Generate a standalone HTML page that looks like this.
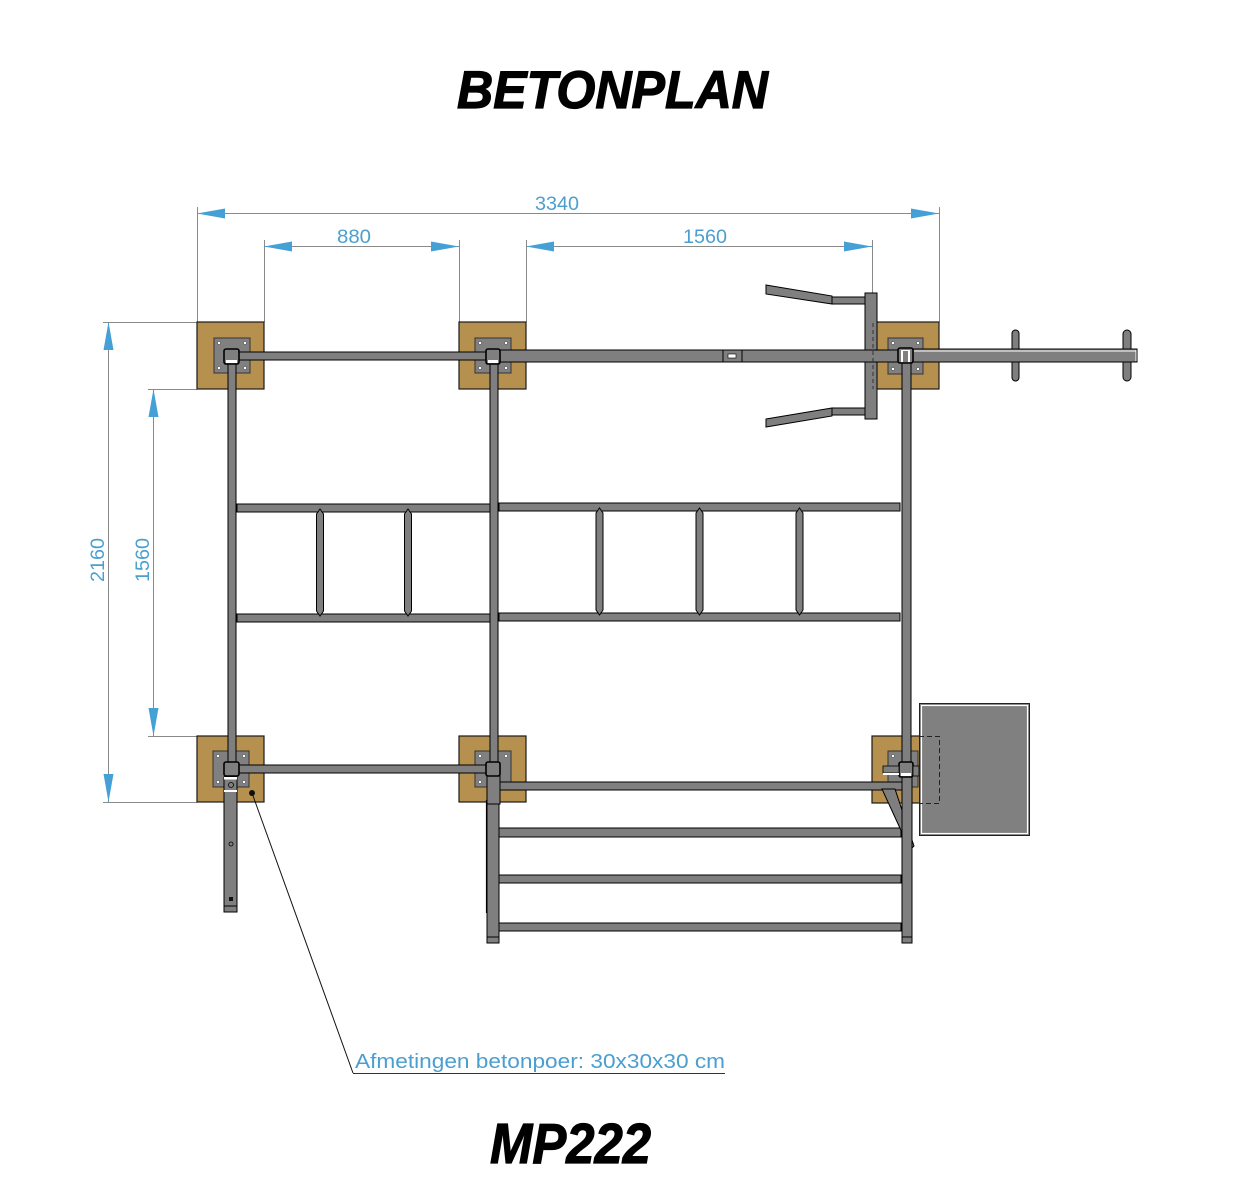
<!DOCTYPE html>
<html><head><meta charset="utf-8"><style>
html,body{margin:0;padding:0;background:#fff;}
svg{display:block;}
</style></head><body>
<svg width="1249" height="1200" viewBox="0 0 1249 1200" xmlns="http://www.w3.org/2000/svg">
<rect width="1249" height="1200" fill="#fff"/>
<!-- Titles -->
<text x="457" y="108" font-family="Liberation Sans, sans-serif" font-weight="bold" font-style="italic" font-size="53" textLength="311" lengthAdjust="spacingAndGlyphs" fill="#000" stroke="#000" stroke-width="1.2">BETONPLAN</text>
<text x="490" y="1163" font-family="Liberation Sans, sans-serif" font-weight="bold" font-style="italic" font-size="57" textLength="161" lengthAdjust="spacingAndGlyphs" fill="#000" stroke="#000" stroke-width="1.2">MP222</text>

<!-- Dimension extension lines -->
<g stroke="#8a8a8a" stroke-width="1" fill="none">
<line x1="197.5" y1="207" x2="197.5" y2="322"/>
<line x1="939.5" y1="207" x2="939.5" y2="322"/>
<line x1="264.5" y1="240" x2="264.5" y2="322"/>
<line x1="459.5" y1="240" x2="459.5" y2="322"/>
<line x1="526.5" y1="240" x2="526.5" y2="322"/>
<line x1="872.5" y1="240" x2="872.5" y2="293"/>
<line x1="197" y1="213.5" x2="939" y2="213.5"/>
<line x1="264" y1="246.5" x2="459" y2="246.5"/>
<line x1="526" y1="246.5" x2="872" y2="246.5"/>
<line x1="103" y1="322.5" x2="197" y2="322.5"/>
<line x1="103" y1="802.5" x2="197" y2="802.5"/>
<line x1="148" y1="389.5" x2="197" y2="389.5"/>
<line x1="148" y1="736.5" x2="197" y2="736.5"/>
<line x1="108.5" y1="322" x2="108.5" y2="802"/>
<line x1="153.5" y1="389" x2="153.5" y2="736"/>
</g>
<g fill="#45a0d6">
<polygon points="197,213.5 225,208.5 225,218.5"/>
<polygon points="939,213.5 911,208.5 911,218.5"/>
<polygon points="264,246.5 292,241.5 292,251.5"/>
<polygon points="459,246.5 431,241.5 431,251.5"/>
<polygon points="526,246.5 554,241.5 554,251.5"/>
<polygon points="872,246.5 844,241.5 844,251.5"/>
<polygon points="108.5,322 103.5,350 113.5,350"/>
<polygon points="108.5,802 103.5,774 113.5,774"/>
<polygon points="153.5,389 148.5,417 158.5,417"/>
<polygon points="153.5,736 148.5,708 158.5,708"/>
</g>
<g font-family="Liberation Sans, DejaVu Sans, sans-serif" font-size="19" fill="#4a9fd0" text-anchor="middle">
<text x="557" y="210" textLength="44" lengthAdjust="spacingAndGlyphs">3340</text>
<text x="354" y="243" textLength="34" lengthAdjust="spacingAndGlyphs">880</text>
<text x="705" y="243" textLength="44" lengthAdjust="spacingAndGlyphs">1560</text>
<text transform="translate(104,560) rotate(-90)" textLength="44" lengthAdjust="spacingAndGlyphs">2160</text>
<text transform="translate(149,560) rotate(-90)" textLength="44" lengthAdjust="spacingAndGlyphs">1560</text>
</g>

<!-- Footings -->
<g fill="#b5904e" stroke="#1a1a1a" stroke-width="1.2">
<rect x="197" y="322" width="67" height="67"/>
<rect x="459" y="322" width="67" height="67"/>
<rect x="873" y="322" width="66" height="67"/>
<rect x="197" y="736" width="67" height="66"/>
<rect x="459" y="736" width="67" height="66"/>
<rect x="872" y="736" width="67" height="67"/>
</g>
<!-- Plates -->
<g fill="#808080" stroke="#333" stroke-width="1">
<rect x="214" y="338" width="36" height="35"/>
<rect x="475" y="338" width="36" height="35"/>
<rect x="888" y="338" width="35" height="36"/>
<rect x="213" y="751" width="36" height="36"/>
<rect x="475" y="751" width="36" height="36"/>
<rect x="888" y="751" width="30" height="36"/>
</g>
<g fill="#fff" stroke="#333" stroke-width="0.5">
<circle cx="219" cy="343" r="1.6"/><circle cx="245" cy="343" r="1.6"/><circle cx="219" cy="368" r="1.6"/><circle cx="245" cy="368" r="1.6"/>
<circle cx="480" cy="343" r="1.6"/><circle cx="506" cy="343" r="1.6"/><circle cx="480" cy="368" r="1.6"/><circle cx="506" cy="368" r="1.6"/>
<circle cx="893" cy="343" r="1.6"/><circle cx="918" cy="343" r="1.6"/><circle cx="893" cy="369" r="1.6"/><circle cx="918" cy="369" r="1.6"/>
<circle cx="218" cy="756" r="1.6"/><circle cx="244" cy="756" r="1.6"/><circle cx="218" cy="782" r="1.6"/><circle cx="244" cy="782" r="1.6"/>
<circle cx="480" cy="756" r="1.6"/><circle cx="506" cy="756" r="1.6"/><circle cx="480" cy="782" r="1.6"/>
<circle cx="893" cy="756" r="1.6"/>
</g>

<!-- Tubes -->
<g fill="#7f7f7f" stroke="#000" stroke-width="1">
<polygon points="766,285 832,296 832,304 766,294"/>
<rect x="832" y="297" width="33" height="7"/>
<polygon points="766,419 832,408 832,416 766,427"/>
<rect x="832" y="408" width="33" height="7"/>
<rect x="865" y="293" width="12" height="126"/>
<rect x="1012" y="330" width="7" height="51" rx="3.5"/>
<rect x="1123" y="330" width="8" height="51" rx="4"/>
<rect x="228" y="362" width="8" height="400"/>
<rect x="490" y="362" width="8" height="400"/>
<rect x="902" y="362" width="9" height="400"/>
<rect x="236" y="352" width="254" height="8"/>
<rect x="499" y="350" width="399" height="12"/>
<rect x="913" y="349" width="224" height="13"/>
<rect x="237" y="504" width="253" height="8"/>
<rect x="237" y="614" width="253" height="8"/>
<rect x="499" y="503" width="401" height="8"/>
<rect x="499" y="613" width="401" height="8"/>
<polygon points="316.5,514 320,509 323.5,514 323.5,611 320,616 316.5,611"/>
<polygon points="404.5,514 408,509 411.5,514 411.5,611 408,616 404.5,611"/>
<polygon points="596,513 599.5,508 603,513 603,610 599.5,615 596,610"/>
<polygon points="696,513 699.5,508 703,513 703,610 699.5,615 696,610"/>
<polygon points="796,513 799.5,508 803,513 803,610 799.5,615 796,610"/>
<rect x="239" y="765" width="247" height="8"/>
<rect x="500" y="782" width="403" height="8"/>
<rect x="499" y="828" width="402" height="9"/>
<rect x="499" y="875" width="402" height="8"/>
<rect x="499" y="923" width="402" height="8"/>
<polygon points="882,789 895,789 914,846 910,850"/>
<rect x="224" y="777" width="13" height="135"/>
<rect x="224" y="906" width="13" height="6"/>
<rect x="487" y="776" width="13" height="28"/>
<rect x="487" y="804" width="12" height="139"/>
<rect x="487" y="937" width="12" height="6"/>
<rect x="902" y="777" width="10" height="166"/>
<rect x="902" y="937" width="10" height="6"/>
</g>
<line x1="486.5" y1="800" x2="486.5" y2="913" stroke="#000" stroke-width="1.2"/>
<line x1="914" y1="351" x2="1136" y2="351" stroke="#fff" stroke-width="1"/>
<line x1="1136" y1="350" x2="1136" y2="361" stroke="#fff" stroke-width="1"/>
<rect x="224" y="777" width="13" height="2.5" fill="#fff"/>
<rect x="224" y="790" width="13" height="2" fill="#fff"/>
<circle cx="231" cy="785" r="2.5" fill="none" stroke="#000" stroke-width="0.8"/>
<circle cx="231" cy="844" r="2" fill="none" stroke="#000" stroke-width="0.8"/>
<rect x="229" y="897" width="4" height="4" fill="#111"/>
<rect x="723" y="350" width="19" height="12" fill="#7f7f7f" stroke="#000" stroke-width="1"/>
<rect x="728" y="354" width="8" height="4" fill="#fff" stroke="#000" stroke-width="0.6"/>
<line x1="873" y1="323" x2="873" y2="389" stroke="#333" stroke-width="1" stroke-dasharray="4,3"/>
<g fill="#7f7f7f" stroke="#000" stroke-width="1.6">
<rect x="224" y="349" width="15" height="15" rx="2"/>
<rect x="486" y="349" width="14" height="15" rx="2"/>
<rect x="898" y="348" width="15" height="15" rx="2"/>
<rect x="224" y="762" width="15" height="14" rx="2"/>
<rect x="486" y="762" width="14" height="14" rx="2"/>
<rect x="899" y="762" width="14" height="15" rx="2"/>
</g>
<g fill="#fff">
<rect x="226" y="360" width="11" height="3"/>
<rect x="488" y="360" width="10" height="3"/>
<rect x="901" y="350" width="9" height="12"/>
<rect x="903" y="351" width="5" height="11" fill="#7f7f7f"/>
<rect x="901" y="773" width="10" height="3"/>
</g>
<rect x="883" y="766" width="16" height="7" fill="#7f7f7f" stroke="#000" stroke-width="0.8"/>
<rect x="883" y="773" width="16" height="2" fill="#fff"/>
<rect x="913" y="766" width="6" height="10" fill="#7f7f7f" stroke="#000" stroke-width="0.8"/>
<rect x="919.5" y="703.5" width="110" height="132" fill="#808080" stroke="#222" stroke-width="1"/>
<rect x="921.5" y="705.5" width="106" height="128" fill="none" stroke="#fff" stroke-width="1.2"/>
<rect x="923" y="707" width="103" height="125" fill="#808080"/>
<path d="M919,736.5 H939.5 V803.5 H919" fill="none" stroke="#222" stroke-width="1" stroke-dasharray="5,3"/>

<circle cx="252" cy="793" r="3" fill="#111"/>
<line x1="252" y1="793" x2="353" y2="1073" stroke="#111" stroke-width="1"/>
<line x1="353" y1="1073.5" x2="725" y2="1073.5" stroke="#333" stroke-width="1"/>
<text x="355" y="1068" font-family="Liberation Sans, DejaVu Sans, sans-serif" font-size="20" fill="#4a9fd0" textLength="370" lengthAdjust="spacingAndGlyphs">Afmetingen betonpoer: 30x30x30 cm</text>
</svg>
</body></html>
